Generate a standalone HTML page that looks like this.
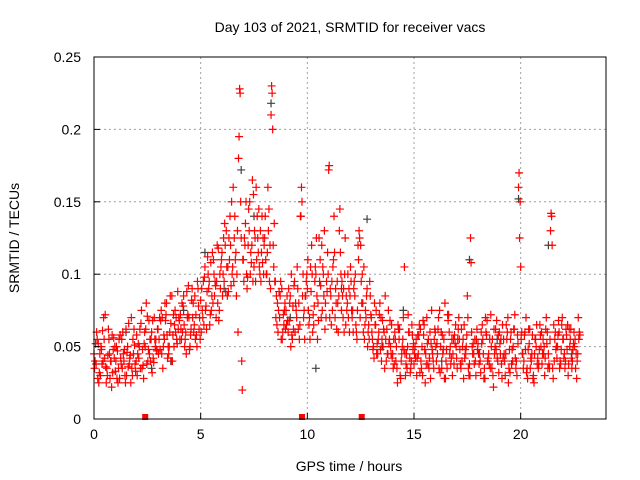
<!DOCTYPE html>
<html><head><meta charset="utf-8"><style>
body{margin:0;background:#fff}
svg{display:block;font-family:"Liberation Sans",Arial,sans-serif}
</style></head><body>
<svg id="chart" width="640" height="480" viewBox="0 0 640 480">
<text x="350" y="32" font-size="14" text-anchor="middle">Day 103 of 2021, SRMTID for receiver vacs</text>
<text x="349" y="471" font-size="14" text-anchor="middle">GPS time / hours</text>
<text x="19" y="238" font-size="14" text-anchor="middle" transform="rotate(-90 19 238)">SRMTID / TECUs</text>
<g id="grid"></g><g id="marks"></g><g id="axes"></g>
</svg>
<script>
const xTicks=[0,5,10,15,20];
const yTicks=[0,0.05,0.1,0.15,0.2,0.25];
const yTickLabels=["0","0.05","0.1","0.15","0.2","0.25"];
const redA=[45,38,52,30,61,42,35,55,40,48,33,47,28,55,40,62,36,44,30,51,58,42,66,37,50,71,45,60,39,55,62,48,70,55,80,45,66,58,75,52,68,55,85,60,72,50,90,65,58,78,82,70,105,88,95,75,110,92,80,100,115,95,130,88,120,105,140,100,195,125,110,135,98,150,120,105,160,115,130,108,125,100,145,210,120,95,80,70,90,65,75,60,85,55,95,70,80,140,100,85,90,70,120,65,100,80,110,75,130,95,172,85,105,70,95,130,75,90,65,100,85,70,95,60,110,120,80,65,90,55,70,50,65,45,80,55,60,40,75,50,45,60,35,55,40,70,30,50,42,65,38,55,45,62,30,48,70,35,52,40,60,45,75,35,55,40,68,50,30,58,42,70,35,55,48,85,38,60,45,30,52,40,65,35,58,45,72,30,50,42,60,38,55,45,70,32,48,62,40,160,105,45,60,35,52,40,30,55,42,65,38,50,70,45,130,35,55,42,60,48,55,40,65,50,35,60,45,70];
const redB=[40,55,32,48,70,36,44,28,58,42,50,35,42,60,30,46,38,70,45,33,45,62,35,52,80,48,40,68,55,47,55,75,50,68,42,60,85,50,70,62,72,60,50,88,70,62,80,55,95,70,90,65,78,100,72,115,85,95,68,105,100,120,85,110,150,95,115,60,225,20,125,100,145,115,95,125,140,105,115,100,110,160,120,225,135,85,75,95,60,80,85,68,100,62,80,90,65,150,75,95,75,105,60,95,85,125,70,100,80,115,70,95,140,80,60,115,85,100,75,90,95,60,100,75,125,80,105,70,60,85,55,80,45,60,70,50,85,45,55,65,55,40,65,30,50,105,45,60,35,48,50,42,65,35,58,45,38,60,48,55,40,70,50,45,80,35,60,42,55,65,55,48,40,65,50,35,125,45,55,62,38,60,45,70,40,55,35,62,48,58,45,65,40,55,35,60,50,42,58,125,60,40,70,48,35,58,45,65,38,50,55,42,60,35,140,65,48,58,40,70,45,58,38,62,48,55,40,60];
const redC=[35,60,25,50,40,72,30,45,22,56,40,25,58,35,48,30,66,25,55,38,30,50,75,28,62,40,55,32,70,48,45,68,35,80,58,50,40,72,60,88,55,80,65,45,92,58,70,85,50,62,60,95,75,112,65,85,100,70,118,90,85,135,105,125,92,160,110,130,228,40,95,150,120,100,165,130,110,145,95,125,140,115,95,230,105,70,60,85,55,75,65,90,50,78,60,105,55,160,70,85,110,55,100,78,125,68,92,105,62,88,175,65,110,90,80,145,95,60,85,70,105,75,85,55,130,95,60,75,50,95,60,42,75,55,48,68,35,62,52,45,35,55,25,62,45,48,38,72,32,58,45,30,58,40,68,25,52,42,75,35,50,62,32,58,28,48,72,38,45,52,35,55,62,28,45,70,30,50,38,55,45,32,55,28,68,38,50,22,62,40,52,28,45,65,25,55,40,72,30,170,55,35,48,28,62,45,25,50,35,58,45,30,52,38,142,28,60,50,35,65,42,62,30,55,40,50,28,55];
const redD=[52,28,45,38,55,25,62,40,32,50,28,55,38,45,25,50,42,35,62,40,52,35,48,60,38,68,55,42,50,62,70,45,58,72,50,85,40,65,55,70,62,78,55,70,48,82,60,72,90,55,75,98,62,90,108,80,95,120,75,110,125,88,105,140,100,125,85,180,150,110,120,90,130,108,155,95,125,100,140,120,100,130,90,200,95,65,88,55,72,62,68,80,58,92,75,62,140,85,55,100,65,88,72,105,55,95,120,85,70,100,90,75,115,62,85,100,70,125,80,60,75,90,65,120,70,100,55,85,65,72,48,65,52,72,40,62,55,45,68,42,38,50,62,28,55,45,35,60,40,52,42,58,32,50,65,38,55,28,45,62,52,35,60,48,28,72,45,55,38,50,62,38,50,42,58,30,108,52,40,48,45,52,28,60,42,35,55,45,68,32,55,42,30,60,48,38,62,35,52,150,45,58,32,62,42,28,55,38,48,60,45,62,35,55,120,40,50,68,38,55,35,48,62,42,52,35,45,58];
const grayT=[0.3,1.5,3.6,5.2,6.1,6.9,7.5,8.3,9.2,10.4,11.6,12.8,14.5,16.3,17.6,18.9,19.9,21.3,22.4,13.5,4.2,2.7];
const grayV=[30,60,40,115,90,172,140,218,70,35,90,138,75,40,110,55,152,120,45,50,75,35];
const markerT=[2.4,9.75,12.55];
const X0=94,X1=606,Y0=419,Y1=57,TMAX=24,VMAX=0.25;
const sx=t=>X0+t/TMAX*(X1-X0), sy=v=>Y0-v/VMAX*(Y0-Y1);
const NS="http://www.w3.org/2000/svg";
function mk(tag,attrs,parent){const e=document.createElementNS(NS,tag);for(const k in attrs)e.setAttribute(k,attrs[k]);parent.appendChild(e);return e;}
const grid=document.getElementById('grid'),marks=document.getElementById('marks'),axes=document.getElementById('axes');
xTicks.forEach((t,i)=>{
 if(t>0){const g=mk('line',{x1:sx(t),x2:sx(t),y1:Y0,y2:Y1,stroke:'#a0a0a0','stroke-dasharray':'2,3'},grid);
 
 }
 const l=mk('text',{x:sx(t),y:Y0+20,'font-size':14,'text-anchor':'middle'},axes);l.textContent=t;
 
 
 mk('line',{x1:sx(t),x2:sx(t),y1:Y0,y2:Y0-6,stroke:'#000'},axes);
});
yTicks.forEach((v,i)=>{
 if(v>0&&v<VMAX){const g=mk('line',{x1:X0,x2:X1,y1:sy(v),y2:sy(v),stroke:'#a0a0a0','stroke-dasharray':'2,3'},grid);
 
 }
 const l=mk('text',{x:81,y:sy(v)+5,'font-size':14,'text-anchor':'end'},axes);l.textContent=yTickLabels[i];
 
 
 mk('line',{x1:X0,x2:X0+6,y1:sy(v),y2:sy(v),stroke:'#000'},axes);
});
const frame=mk('rect',{x:X0,y:Y1,width:X1-X0,height:Y0-Y1,fill:'none',stroke:'#000'},axes);


function plus(t,v,color,name){const x=sx(t),y=sy(v);
 const p=mk('path',{d:`M${x-4} ${y}h8M${x} ${y-4}v8`,stroke:color,'stroke-width':1.2,fill:'none'},marks);
 
 }
grayT.forEach((t,i)=>plus(t,grayV[i]/1000,'#404040','gray-point'));
redA.forEach((v,i)=>plus(i*0.1,v/1000,'#ff0000','red-point'));
redB.forEach((v,i)=>plus(i*0.1+0.05,v/1000,'#ff0000','red-point'));
redC.forEach((v,i)=>plus(i*0.1+0.025,v/1000,'#ff0000','red-point'));
redD.forEach((v,i)=>plus(i*0.1+0.075,v/1000,'#ff0000','red-point'));
markerT.forEach(t=>{const r=mk('rect',{x:sx(t)-3,y:Y0-5,width:6,height:6,fill:'#ff0000'},marks);
 
 });
</script>
</body></html>
